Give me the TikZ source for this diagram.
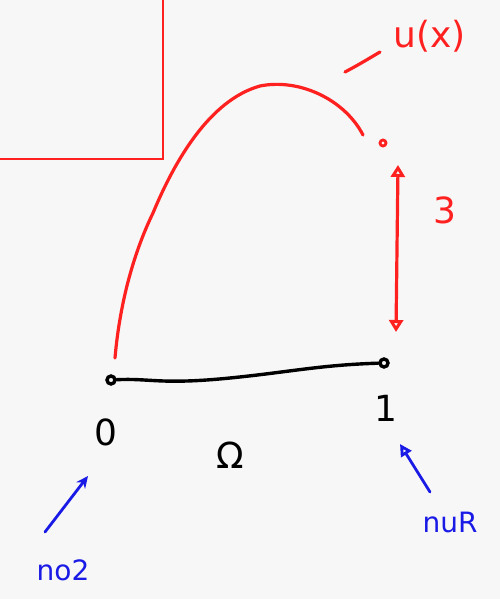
\documentclass[tikz,border=0pt]{standalone}
\usepackage{fontspec}
\setmainfont{DejaVu Sans}
\usetikzlibrary{arrows.meta}
\definecolor{bg}{HTML}{F7F7F7}
\definecolor{pred}{HTML}{FF2020}
\definecolor{pblue}{HTML}{1A1AE6}
\tikzset{
  redpen/.style={draw=pred, line width=3.2pt, line cap=round, line join=round},
  blackpen/.style={draw=black, line width=3.4pt, line cap=round, line join=round},
  bluepen/.style={draw=pblue, line width=2.8pt, line cap=round, line join=round},
  redlbl/.style={text=pred, font=\fontsize{36}{36}\selectfont},
  blacklbl/.style={text=black, font=\fontsize{36}{36}\selectfont},
  bluelbl/.style={text=pblue, font=\fontsize{28}{28}\selectfont},
  endpt/.style={circle, draw=black, line width=3.4pt, inner sep=0pt, minimum size=8pt},
}
\begin{document}
\begin{tikzpicture}[x=1pt,y=-1pt]
\fill[bg] (0,0) rectangle (500,599);
\useasboundingbox (0,0) rectangle (500,599);
% red frame fragment
\draw[draw=pred, line width=2.8pt] (0,159) -- (163,159) -- (163,0);
% curve u(x)
\draw[redpen] (115,358) .. controls (120,300) and (135,250) .. (153,213)
  .. controls (175,160) and (210,100) .. (260,86)
  .. controls (300,78) and (345,100) .. (363,135);
\node[circle, draw=pred, line width=2.8pt, inner sep=0pt, minimum size=6pt] (top) at (383,143) {};
% arrow of height 3
\coordinate (a1) at (398,165);
\coordinate (a2) at (396,332);
\draw[redpen, {Triangle[open,length=12pt,width=14pt]}-{Triangle[open,length=12pt,width=14pt]}] (a1) -- (a2);
\node[redlbl] (three) at (445,210) {3};
% u(x) label
\node[redlbl, anchor=west] (ux) at (390,36) {u(x)};
\coordinate (ut1) at (345,72);
\coordinate (ut2) at (380,52);
\draw[redpen] (ut1) .. controls (358,65) .. (ut2);
% domain segment
\node[endpt] (p0) at (111,380) {};
\node[endpt] (p1) at (384,363) {};
\draw[blackpen] (p0) .. controls (150,378) and (160,385) .. (230,378)
  .. controls (290,372) and (320,365) .. (p1);
\node[blacklbl] (l0) at (106,432) {0};
\node[blacklbl] (l1) at (386,408) {1};
\node[blacklbl] (om) at (230,455) {Ω};
% blue arrows
\coordinate (b1) at (45,532);
\coordinate (b2) at (88,476);
\draw[bluepen, -{Stealth[length=12pt,width=11pt]}] (b1) -- (b2);
\coordinate (c1) at (430,492);
\coordinate (c2) at (400,444);
\draw[bluepen, -{Triangle[open,length=12pt,width=12pt]}] (c1) -- (c2);
\node[bluelbl] (nl) at (63,570) {no2};
\node[bluelbl] (nr) at (450,522) {nuR};
\end{tikzpicture}
\end{document}
